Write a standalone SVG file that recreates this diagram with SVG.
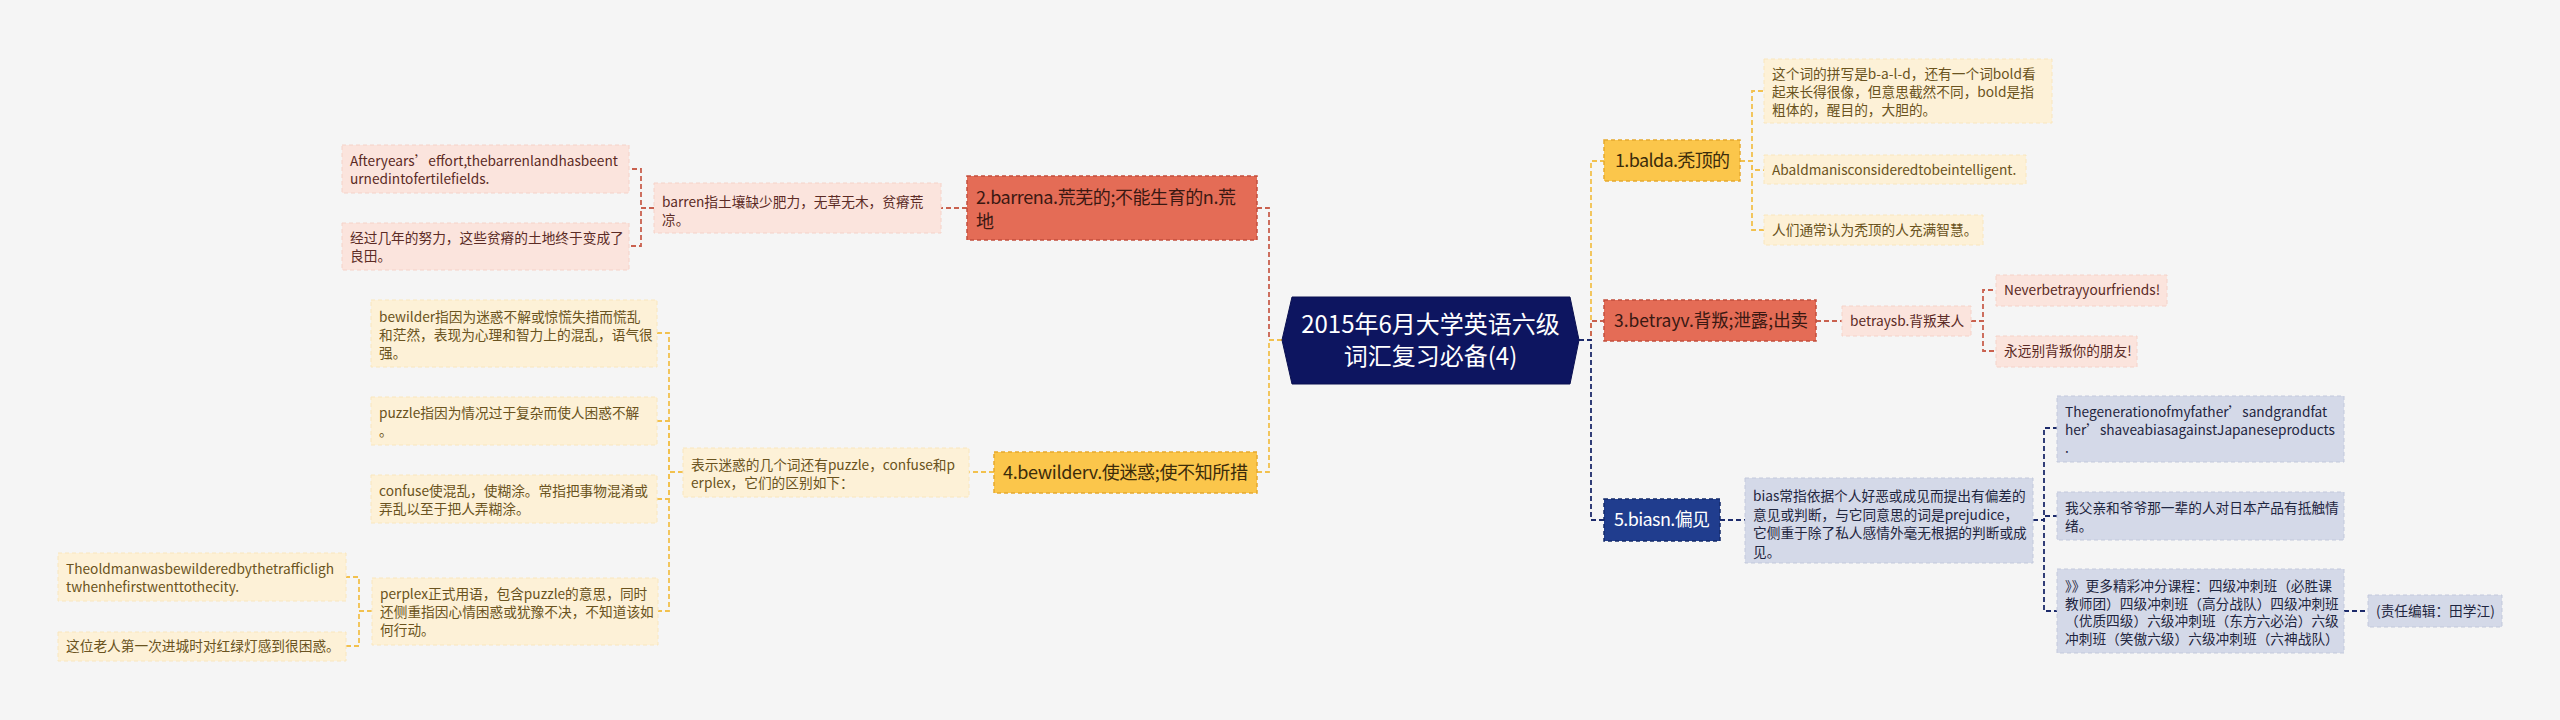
<svg xmlns="http://www.w3.org/2000/svg" width="2560" height="720" viewBox="0 0 2560 720">
<style>
text{font-family:"Noto Sans CJK SC","Noto Sans",sans-serif;}
.t24{font-size:24px;fill:#ffffff;}
.t18{font-size:18px;}
.t14{font-size:13.7px;}
.dk-y{fill:#3b2c0a;}
.dk-r{fill:#3a1812;}
.wh{fill:#ffffff;}
.ty{fill:#6a5320;}
.tp{fill:#5b2b25;}
.tb{fill:#1f2640;}
.n-or{fill:#fbc64b;stroke:#e6a92e;stroke-width:1.5;stroke-dasharray:4 3;}
.n-rd{fill:#e46c56;stroke:#c24e3c;stroke-width:1.5;stroke-dasharray:4 3;}
.n-bl{fill:#203d8e;stroke:#132a6a;stroke-width:1.5;stroke-dasharray:4 3;}
.c-y{fill:#fdf1d7;stroke:#f9e6bd;stroke-width:1;stroke-dasharray:4 3;}
.c-p{fill:#fbe4dd;stroke:#f5d2c8;stroke-width:1;stroke-dasharray:4 3;}
.c-b{fill:#d4d9e8;stroke:#c3c9dc;stroke-width:1;stroke-dasharray:4 3;}
.l-or{fill:none;stroke:#f2c14e;stroke-width:1.8;stroke-dasharray:5 3;}
.l-rd{fill:none;stroke:#c9614f;stroke-width:1.8;stroke-dasharray:5 3;}
.l-bl{fill:none;stroke:#1d2b6b;stroke-width:1.8;stroke-dasharray:5 3;}
</style>
<rect x="0" y="0" width="2560" height="720" fill="#f5f5f5"/>

<g id="connectors">
<path class="l-rd" d="M1282,340 H1269 V208 H1257"/>
<path class="l-or" d="M1282,340 H1269 V472 H1257"/>
<path class="l-or" d="M1579,340 H1591 V161 H1604"/>
<path class="l-rd" d="M1579,340 H1591 V321 H1604"/>
<path class="l-bl" d="M1579,340 H1591 V520 H1604"/>
<path class="l-or" d="M1740,161 H1752 V91 H1764"/>
<path class="l-or" d="M1740,161 H1752 V170 H1764"/>
<path class="l-or" d="M1740,161 H1752 V230 H1764"/>
<path class="l-rd" d="M1816,321 H1842"/>
<path class="l-rd" d="M1971,321 H1983 V290 H1996"/>
<path class="l-rd" d="M1971,321 H1983 V351 H1996"/>
<path class="l-bl" d="M1720,520 H1745"/>
<path class="l-bl" d="M2033,520 H2044 V428 H2057"/>
<path class="l-bl" d="M2033,520 H2044 V516 H2057"/>
<path class="l-bl" d="M2033,520 H2044 V611 H2057"/>
<path class="l-bl" d="M2344,611 H2368"/>
<path class="l-rd" d="M967,208 H941"/>
<path class="l-rd" d="M654,208 H641 V169 H629"/>
<path class="l-rd" d="M654,208 H641 V246 H629"/>
<path class="l-or" d="M994,472 H969"/>
<path class="l-or" d="M683,472 H669 V333 H657"/>
<path class="l-or" d="M683,472 H669 V421 H657"/>
<path class="l-or" d="M683,472 H669 V499 H657"/>
<path class="l-or" d="M683,472 H669 V611 H658"/>
<path class="l-or" d="M372,611 H359 V577 H346"/>
<path class="l-or" d="M372,611 H359 V646 H346"/>
</g>

<g id="center">
<polygon points="1292,297 1570,297 1579,340 1570,384 1292,384 1282,340" fill="#0d1560" stroke="#0a1050" stroke-width="1"/>
<text class="t24" x="1430.5" y="333" text-anchor="middle">2015年6月大学英语六级</text>
<text class="t24" x="1430.5" y="365" text-anchor="middle">词汇复习必备(4)</text>
</g>

<g id="n1">
<rect class="n-or" x="1604" y="140" width="136" height="41"/>
<text class="t18 dk-y" x="1615" y="167" textLength="115">1.balda.秃顶的</text>
</g>
<g id="n1a">
<rect class="c-y" x="1764" y="59" width="288" height="64"/>
<text class="t14 ty" x="1772" y="79">这个词的拼写是b-a-l-d，还有一个词bold看</text>
<text class="t14 ty" x="1772" y="97">起来长得很像，但意思截然不同，bold是指</text>
<text class="t14 ty" x="1772" y="115">粗体的，醒目的，大胆的。</text>
</g>
<g id="n1b">
<rect class="c-y" x="1764" y="155" width="262" height="29"/>
<text class="t14 ty" x="1772" y="174.5">Abaldmanisconsideredtobeintelligent.</text>
</g>
<g id="n1c">
<rect class="c-y" x="1764" y="215" width="219" height="30"/>
<text class="t14 ty" x="1772" y="235">人们通常认为秃顶的人充满智慧。</text>
</g>

<g id="n3">
<rect class="n-rd" x="1604" y="300" width="212" height="41"/>
<text class="t18 dk-r" x="1614" y="327" textLength="194" lengthAdjust="spacingAndGlyphs">3.betrayv.背叛;泄露;出卖</text>
</g>
<g id="n3a">
<rect class="c-p" x="1842" y="306" width="129" height="30"/>
<text class="t14 tp" x="1850" y="326">betraysb.背叛某人</text>
</g>
<g id="n3b">
<rect class="c-p" x="1996" y="275" width="171" height="31"/>
<text class="t14 tp" x="2004" y="295">Neverbetrayyourfriends!</text>
</g>
<g id="n3c">
<rect class="c-p" x="1996" y="336" width="141" height="31"/>
<text class="t14 tp" x="2004" y="356">永远别背叛你的朋友!</text>
</g>

<g id="n5">
<rect class="n-bl" x="1604" y="499" width="116" height="42"/>
<text class="t18 wh" x="1614" y="526" textLength="96">5.biasn.偏见</text>
</g>
<g id="n5a">
<rect class="c-b" x="1745" y="478" width="288" height="85"/>
<text class="t14 tb" x="1753" y="501">bias常指依据个人好恶或成见而提出有偏差的</text>
<text class="t14 tb" x="1753" y="519.5">意见或判断，与它同意思的词是prejudice，</text>
<text class="t14 tb" x="1753" y="538">它侧重于除了私人感情外毫无根据的判断或成</text>
<text class="t14 tb" x="1753" y="556.5">见。</text>
</g>
<g id="n5b">
<rect class="c-b" x="2057" y="396" width="287" height="66"/>
<text class="t14 tb" x="2065" y="417">Thegenerationofmyfather’sandgrandfat</text>
<text class="t14 tb" x="2065" y="435">her’shaveabiasagainstJapaneseproducts</text>
<text class="t14 tb" x="2065" y="453">.</text>
</g>
<g id="n5c">
<rect class="c-b" x="2057" y="492" width="287" height="48"/>
<text class="t14 tb" x="2065" y="513">我父亲和爷爷那一辈的人对日本产品有抵触情</text>
<text class="t14 tb" x="2065" y="531">绪。</text>
</g>
<g id="n5d">
<rect class="c-b" x="2057" y="569" width="287" height="84"/>
<text class="t14 tb" x="2065" y="591">》》更多精彩冲分课程：四级冲刺班（必胜课</text>
<text class="t14 tb" x="2065" y="608.5">教师团）四级冲刺班（高分战队）四级冲刺班</text>
<text class="t14 tb" x="2065" y="626">（优质四级）六级冲刺班（东方六必治）六级</text>
<text class="t14 tb" x="2065" y="643.5">冲刺班（笑傲六级）六级冲刺班（六神战队）</text>
</g>
<g id="n5e">
<rect class="c-b" x="2368" y="595" width="134" height="32"/>
<text class="t14 tb" x="2376" y="616">(责任编辑：田学江)</text>
</g>

<g id="n2">
<rect class="n-rd" x="967" y="176" width="290" height="64"/>
<text class="t18 dk-r" x="976" y="204" textLength="260">2.barrena.荒芜的;不能生育的n.荒</text>
<text class="t18 dk-r" x="976" y="228">地</text>
</g>
<g id="n2a">
<rect class="c-p" x="654" y="183" width="287" height="50"/>
<text class="t14 tp" x="662" y="207">barren指土壤缺少肥力，无草无木，贫瘠荒</text>
<text class="t14 tp" x="662" y="225">凉。</text>
</g>
<g id="n2b">
<rect class="c-p" x="342" y="145" width="287" height="48"/>
<text class="t14 tp" x="350" y="166">Afteryears’effort,thebarrenlandhasbeent</text>
<text class="t14 tp" x="350" y="184">urnedintofertilefields.</text>
</g>
<g id="n2c">
<rect class="c-p" x="342" y="223" width="287" height="47"/>
<text class="t14 tp" x="350" y="243">经过几年的努力，这些贫瘠的土地终于变成了</text>
<text class="t14 tp" x="350" y="261">良田。</text>
</g>

<g id="n4">
<rect class="n-or" x="994" y="452" width="263" height="41"/>
<text class="t18 dk-y" x="1003" y="479" textLength="245">4.bewilderv.使迷惑;使不知所措</text>
</g>
<g id="n4a">
<rect class="c-y" x="683" y="448" width="286" height="49"/>
<text class="t14 ty" x="691" y="470">表示迷惑的几个词还有puzzle，confuse和p</text>
<text class="t14 ty" x="691" y="488">erplex，它们的区别如下：</text>
</g>
<g id="n4b">
<rect class="c-y" x="371" y="300" width="286" height="67"/>
<text class="t14 ty" x="379" y="322">bewilder指因为迷惑不解或惊慌失措而慌乱</text>
<text class="t14 ty" x="379" y="340">和茫然，表现为心理和智力上的混乱，语气很</text>
<text class="t14 ty" x="379" y="358">强。</text>
</g>
<g id="n4c">
<rect class="c-y" x="371" y="397" width="286" height="48"/>
<text class="t14 ty" x="379" y="418">puzzle指因为情况过于复杂而使人困惑不解</text>
<text class="t14 ty" x="379" y="436">。</text>
</g>
<g id="n4d">
<rect class="c-y" x="371" y="475" width="286" height="48"/>
<text class="t14 ty" x="379" y="496">confuse使混乱，使糊涂。常指把事物混淆或</text>
<text class="t14 ty" x="379" y="514">弄乱以至于把人弄糊涂。</text>
</g>
<g id="n4e">
<rect class="c-y" x="372" y="578" width="286" height="67"/>
<text class="t14 ty" x="380" y="599">perplex正式用语，包含puzzle的意思，同时</text>
<text class="t14 ty" x="380" y="617">还侧重指因心情困惑或犹豫不决，不知道该如</text>
<text class="t14 ty" x="380" y="635">何行动。</text>
</g>
<g id="n4f">
<rect class="c-y" x="58" y="553" width="288" height="48"/>
<text class="t14 ty" x="66" y="574">Theoldmanwasbewilderedbythetrafficligh</text>
<text class="t14 ty" x="66" y="592">twhenhefirstwenttothecity.</text>
</g>
<g id="n4g">
<rect class="c-y" x="58" y="632" width="288" height="29"/>
<text class="t14 ty" x="66" y="651">这位老人第一次进城时对红绿灯感到很困惑。</text>
</g>
</svg>
